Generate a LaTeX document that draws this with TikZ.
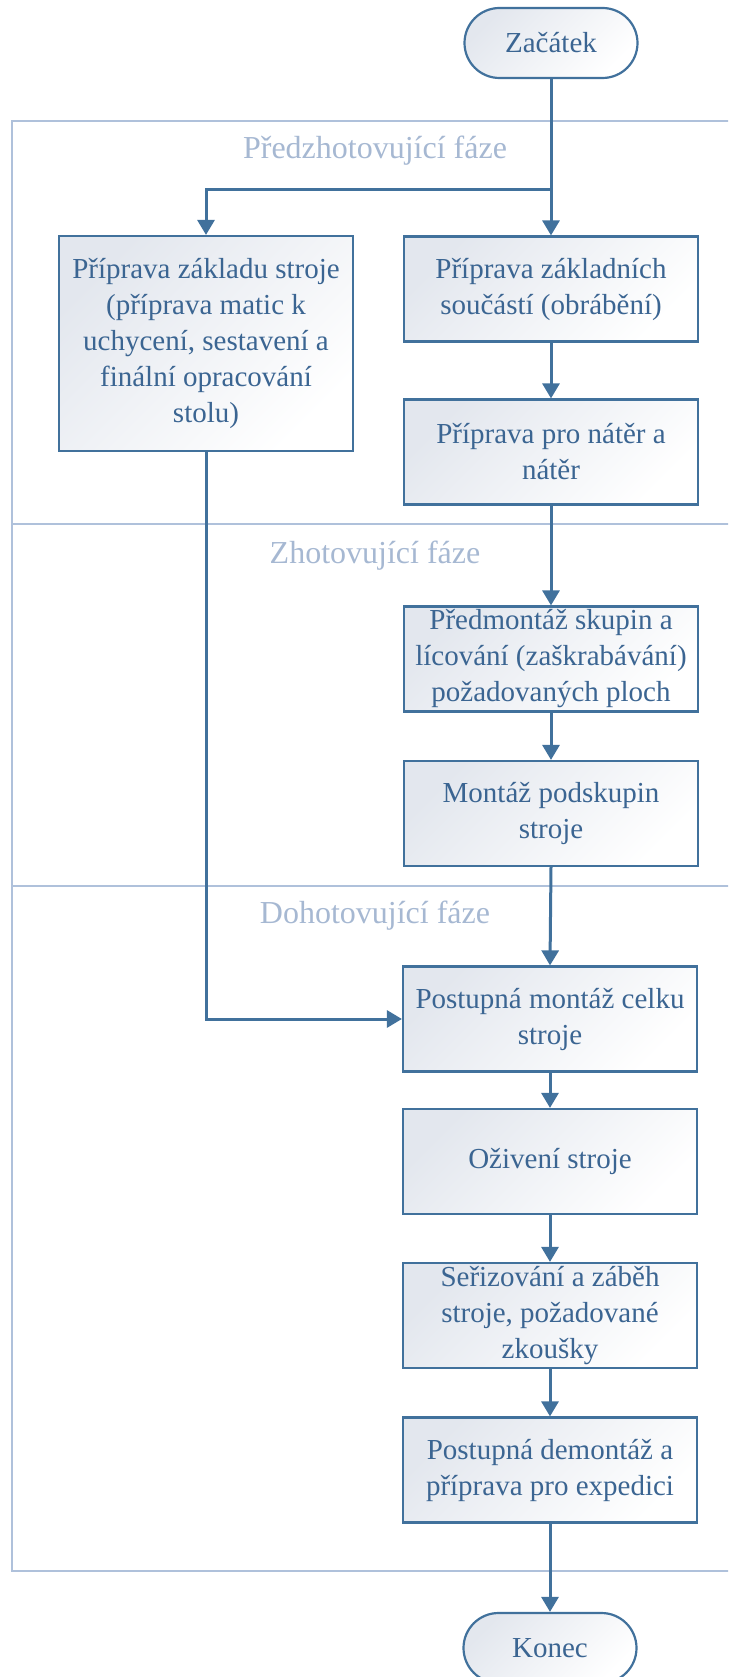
\documentclass[tikz,border=0pt]{standalone}
\usepackage{fontspec}
\setmainfont{Liberation Serif}
\usetikzlibrary{arrows.meta,positioning}
\definecolor{lineblue}{HTML}{41719C}
\definecolor{textblue}{HTML}{3B6592}
\definecolor{lanec}{HTML}{AFC1DB}
\definecolor{labelc}{HTML}{A6B8D2}
\definecolor{shadec}{HTML}{E3E7EE}
\tikzset{
  procbox/.style={draw=lineblue, line width=2.2pt, top color=shadec, bottom color=white, shading angle=45,
    minimum width=294pt, minimum height=105pt, inner sep=0pt, align=center, text=textblue,
    font=\fontsize{29}{36}\selectfont},
  termbox/.style={procbox, minimum width=173pt, minimum height=70pt, rounded corners=35pt},
  conn/.style={draw=lineblue, line width=3pt, -{Triangle[length=15pt,width=17pt]}},
  laneline/.style={draw=lanec, line width=2pt},
  lanelabel/.style={text=labelc, font=\fontsize{32}{38}\selectfont, inner sep=0pt}
}
\begin{document}
\begin{tikzpicture}[x=1pt,y=-1pt]
\useasboundingbox (0,0) rectangle (728,1677);
\clip (0,0) rectangle (728,1677);
% lanes
\draw[laneline] (760,121) -- (12,121) -- (12,1571) -- (760,1571);
\draw[laneline] (12,524) -- (760,524);
\draw[laneline] (12,886) -- (760,886);
\node[lanelabel] (l1) at (375,151) {Předzhotovující fáze};
\node[lanelabel] (l2) at (375,556) {Zhotovující fáze};
\node[lanelabel] (l3) at (375,916) {Dohotovující fáze};
% nodes
\node[termbox] (start) at (551,43) {Začátek};
\node[procbox, minimum height=215pt] (lbox) at (206,343.5) {Příprava základu stroje\\(příprava matic k\\uchycení, sestavení a\\finální opracování\\stolu)};
\node[procbox] (b1) at (551,289) {Příprava základních\\součástí (obrábění)};
\node[procbox] (b2) at (551,452) {Příprava pro nátěr a\\nátěr};
\node[procbox] (b3) at (551,659) {Předmontáž skupin a\\lícování (zaškrabávání)\\požadovaných ploch};
\node[procbox] (b4) at (551,813.5) {Montáž podskupin\\stroje};
\node[procbox] (b5) at (550,1019) {Postupná montáž celku\\stroje};
\node[procbox] (b6) at (550,1161.5) {Oživení stroje};
\node[procbox] (b7) at (550,1315.5) {Seřizování a záběh\\stroje, požadované\\zkoušky};
\node[procbox] (b8) at (550,1470) {Postupná demontáž a\\příprava pro expedici};
\node[termbox] (end) at (550,1648) {Konec};
% connectors
\coordinate (split) at (551,190);
\draw[conn] (start) -- (b1);
\draw[conn] (split) -| (lbox.north);
\draw[conn] (b1) -- (b2);
\draw[conn] (b2) -- (b3);
\draw[conn] (b3) -- (b4);
\draw[conn] (b4.south) -- (b5.north);
\draw[conn] (lbox.south) |- (b5.west);
\draw[conn] (b5) -- (b6);
\draw[conn] (b6) -- (b7);
\draw[conn] (b7) -- (b8);
\draw[conn] (b8) -- (end);
\end{tikzpicture}
\end{document}
